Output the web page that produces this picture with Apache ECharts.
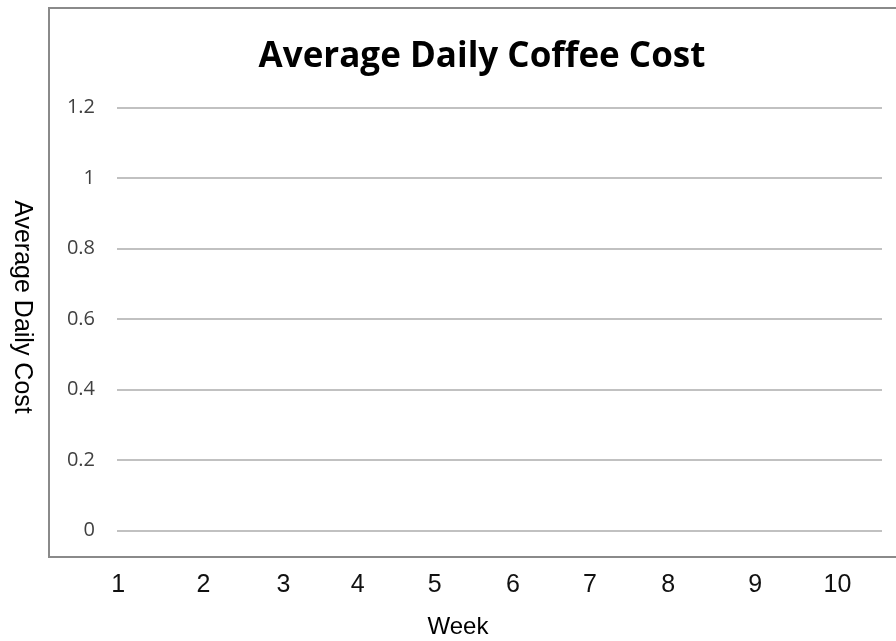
<!DOCTYPE html>
<html lang="en" style="height: 100%">
<head>
  <meta charset="utf-8">
</head>
<body style="height: 100%; margin: 0; background: #fff">
  <div id="container" style="width: 896px; height: 641px"></div>

  <script type="text/javascript" src="https://fastly.jsdelivr.net/npm/echarts@6.0.0/dist/echarts.min.js"></script>
  <script type="text/javascript">
    // chart data: weeks on x, nothing plotted yet
    var weeks = ['1', '2', '3', '4', '5', '6', '7', '8', '9', '10'];
    var dailyCost = [];
    var costTicks = [0, 0.2, 0.4, 0.6, 0.8, 1, 1.2];

    // the week labels in the original sit a bit off a regular spacing
    var labelNudge = [-2, 4, 5, 0, -2, -3, -5, -6, 2, 5];
    var weekRich = {};
    labelNudge.forEach(function (dx, i) {
      weekRich['w' + i] = {
        fontFamily: 'Liberation Sans',
        fontSize: 25,
        color: '#111',
        padding: [0, Math.max(-dx, 0) * 2, 0, Math.max(dx, 0) * 2]
      };
    });

    var dom = document.getElementById('container');
    var myChart = echarts.init(dom, null, { renderer: 'canvas' });

    var option = {
      backgroundColor: '#fff',
      animation: false,
      title: {
        text: 'Average Daily Coffee Cost',
        left: 477,
        textAlign: 'center',
        top: 35,
        textStyle: {
          fontFamily: 'Open Sans',
          fontWeight: 'bold',
          fontSize: 35,
          color: '#000'
        }
      },
      graphic: [
        {
          type: 'rect',
          shape: { x: 49, y: 8, width: 900, height: 549 },
          style: { fill: null, stroke: '#8a8a8a', lineWidth: 2 },
          silent: true
        },
        {
          type: 'text',
          x: 22,
          y: 307,
          rotation: -Math.PI / 2,
          style: {
            text: 'Average Daily Cost',
            font: '25px "Liberation Sans", Arial, sans-serif',
            fill: '#000',
            align: 'center',
            verticalAlign: 'middle'
          }
        },
        {
          type: 'text',
          x: 458,
          y: 627,
          style: {
            text: 'Week',
            font: '24px "Liberation Sans", Arial, sans-serif',
            fill: '#000',
            align: 'center',
            verticalAlign: 'middle'
          }
        }
      ],
      grid: [
        { left: 117, right: 14, top: 107.7, bottom: 110.3 },
        { left: 80.7, right: 24, top: 107.7, bottom: 110.3 }
      ],
      xAxis: [
        {
          type: 'category',
          gridIndex: 0,
          data: weeks,
          show: false
        },
        {
          type: 'category',
          gridIndex: 1,
          data: weeks,
          axisLine: { show: false },
          axisTick: { show: false },
          axisLabel: {
            interval: 0,
            hideOverlap: false,
            margin: 42,
            fontFamily: 'Liberation Sans',
            fontSize: 25,
            color: '#111',
            formatter: function (value, index) {
              return '{w' + index + '|' + value + '}';
            },
            rich: weekRich
          }
        }
      ],
      yAxis: [
        {
          type: 'value',
          gridIndex: 0,
          min: costTicks[0],
          max: costTicks[costTicks.length - 1],
          interval: costTicks[1] - costTicks[0],
          axisLine: { show: false },
          axisTick: { show: false },
          axisLabel: {
            margin: 22,
            fontFamily: 'Open Sans',
            fontSize: 20,
            color: '#404040'
          },
          splitLine: { lineStyle: { color: '#adadad', width: 1.5 } }
        },
        {
          type: 'value',
          gridIndex: 1,
          show: false
        }
      ],
      series: [
        {
          name: 'Average Daily Cost',
          type: 'line',
          xAxisIndex: 0,
          yAxisIndex: 0,
          data: dailyCost
        }
      ]
    };

    myChart.setOption(option);
    window.addEventListener('resize', myChart.resize);
  </script>
</body>
</html>
